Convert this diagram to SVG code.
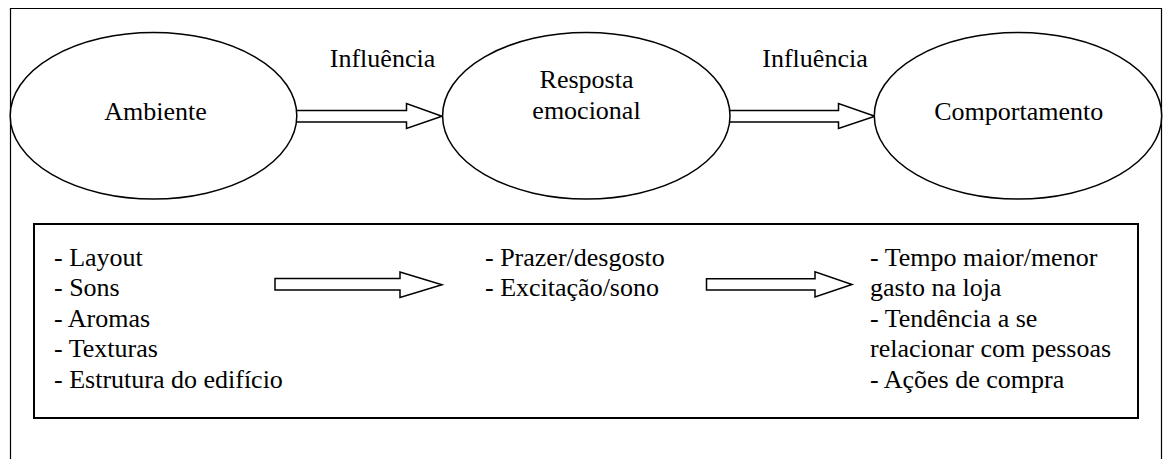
<svg xmlns="http://www.w3.org/2000/svg" width="1164" height="459" viewBox="0 0 1164 459">
<style>
  .sh{fill:#fff;stroke:#000;stroke-width:1.5}
  .ar{fill:#fff;stroke:#000;stroke-width:1.5;stroke-linejoin:miter}
</style>
<rect width="1164" height="459" fill="#fff"/>
<path id="frame" d="M10.5,460 V8.5 H1161.5 V460" fill="none" stroke="#000" stroke-width="1.2"/>
<g id="connectors">
  <path class="ar" d="M297,110.5 H406.5 V103.5 L442,116.2 L406.5,128.5 V122 H297"/>
  <path class="ar" d="M730,110.5 H838.5 V103.5 L875,116.2 L838.5,128.5 V122 H730"/>
  <path class="ar" d="M275,278.5 H400 V272 L442,284.7 L400,297.5 V290 H275 Z"/>
  <path class="ar" d="M706.5,278.8 H815 V271.8 L852,284.5 L815,297 V290 H706.5 Z"/>
  <g font-family="Liberation Serif" font-size="26" text-anchor="middle">
    <text x="382.5" y="66.5">Influ&#234;ncia</text>
    <text x="815" y="66.5">Influ&#234;ncia</text>
  </g>
</g>
<g id="ambiente">
  <ellipse class="sh" cx="153.5" cy="115.7" rx="143.3" ry="83.3"/>
  <text font-family="Liberation Serif" font-size="26" text-anchor="middle" x="155.5" y="120">Ambiente</text>
</g>
<g id="resposta">
  <ellipse class="sh" cx="586.3" cy="115.7" rx="143.7" ry="83.3"/>
  <g font-family="Liberation Serif" font-size="26" text-anchor="middle">
    <text x="586.5" y="88.3">Resposta</text>
    <text x="586.5" y="118.5">emocional</text>
  </g>
</g>
<g id="comportamento">
  <ellipse class="sh" cx="1018" cy="115.7" rx="143.7" ry="83.3"/>
  <text font-family="Liberation Serif" font-size="26" text-anchor="middle" x="1018.7" y="119.5">Comportamento</text>
</g>
<g id="detalhes">
  <rect x="34" y="224" width="1104" height="194" fill="none" stroke="#000" stroke-width="2"/>
  <g font-family="Liberation Serif" font-size="26">
    <text x="54" y="265.5">- Layout</text>
    <text x="54" y="296">- Sons</text>
    <text x="54" y="326.7">- Aromas</text>
    <text x="54" y="357.3">- Texturas</text>
    <text x="54" y="388">- Estrutura do edif&#237;cio</text>
    <text x="485" y="265.5">- Prazer/desgosto</text>
    <text x="485" y="296">- Excita&#231;&#227;o/sono</text>
    <text x="870" y="265.5">- Tempo maior/menor</text>
    <text x="870" y="296">gasto na loja</text>
    <text x="870" y="326.7">- Tend&#234;ncia a se</text>
    <text x="870" y="357.3">relacionar com pessoas</text>
    <text x="870" y="388">- A&#231;&#245;es de compra</text>
  </g>
</g>
</svg>
